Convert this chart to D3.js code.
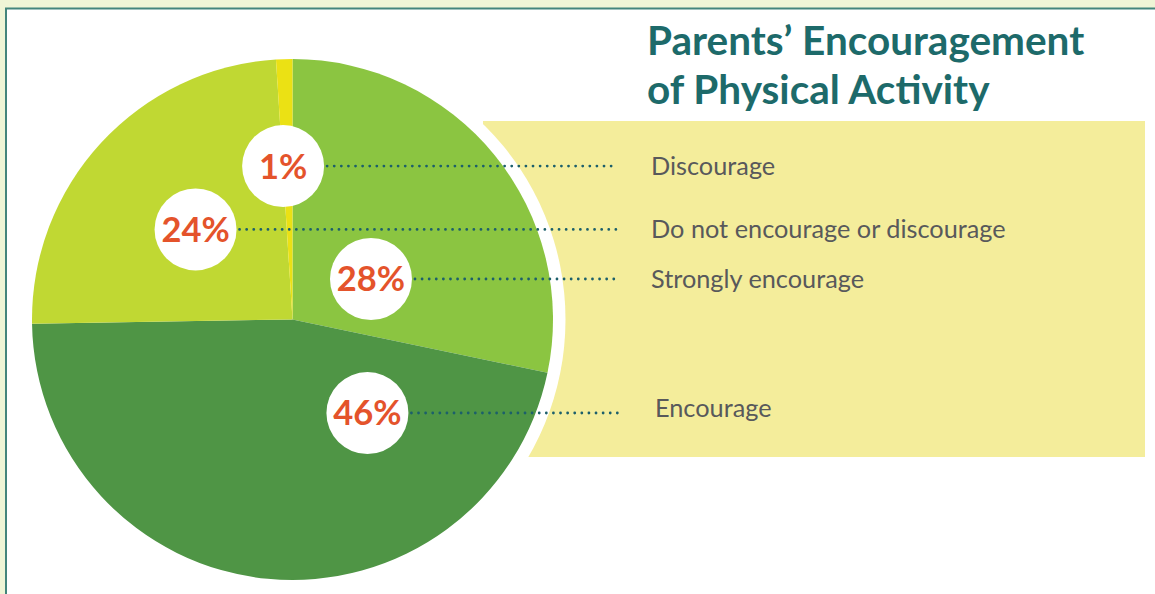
<!DOCTYPE html>
<html>
<head>
<meta charset="utf-8">
<script src="https://cdn.jsdelivr.net/npm/d3@7"></script>
<style>
  html, body { margin: 0; padding: 0; background: #eff5d6; }
  svg { display: block; }
</style>
</head>
<body>
<svg id="chart" width="1155" height="594"></svg>
<script>
// Survey responses, in clockwise order from twelve o'clock
const categories = ["Strongly encourage", "Encourage", "Do not encourage or discourage", "Discourage"];
const values = [28, 46, 24, 1];
const valueLabels = ["28%", "46%", "24%", "1%"];
const sliceColors = ["#8bc541", "#4f9545", "#c0d833", "#ebe114"];

// Where each value bubble sits inside the pie: angle (deg, clockwise from north) and radius as a share of the pie radius
const bubbleAngles = [62.7, 141.3, -47.1, -3.5];
const bubbleRadii = [0.339, 0.46, 0.508, 0.59];

const titleLines = ["Parents\u2019 Encouragement", "of Physical Activity"];

const svg = d3.select("#chart");
const W = 1155, H = 594;

// Panel with teal frame
svg.append("rect")
  .attr("x", 6).attr("y", 8.5)
  .attr("width", W + 10).attr("height", H + 10)
  .attr("fill", "#ffffff")
  .attr("stroke", "#43857c").attr("stroke-width", 2);

// Yellow band behind the category names
svg.append("rect")
  .attr("x", 483).attr("y", 121)
  .attr("width", 662).attr("height", 336)
  .attr("fill", "#f4ed9b");

const cx = 292.5, cy = 319.5, R = 260.5;
const g = svg.append("g").attr("transform", `translate(${cx},${cy})`);

// White halo around the pie
g.append("circle").attr("r", R + 12.5).attr("fill", "#ffffff");

const pie = d3.pie().sort(null).value(d => d)(values);
const arc = d3.arc().innerRadius(0).outerRadius(R);

g.selectAll("path.slice")
  .data(pie)
  .join("path")
  .attr("class", "slice")
  .attr("d", arc)
  .attr("fill", (d, i) => sliceColors[i]);

// Bubble centres in page coordinates
const bubbles = values.map((v, i) => {
  const p = d3.pointRadial(bubbleAngles[i] * Math.PI / 180, bubbleRadii[i] * R);
  return { x: cx + p[0], y: cy + p[1], label: valueLabels[i], name: categories[i], i };
});

const bubbleR = 41;
const lineEnd = 618;
const textX = [651, 655, 651, 651];
const textShift = [0, -5, 0, 0];

// Dotted leader lines from each bubble to its category name
svg.selectAll("line.leader")
  .data(bubbles)
  .join("line")
  .attr("class", "leader")
  .attr("x1", d => d.x + bubbleR + 3)
  .attr("x2", lineEnd)
  .attr("y1", d => d.y).attr("y2", d => d.y)
  .attr("stroke", "#1c5f6b")
  .attr("stroke-width", 2.8)
  .attr("stroke-linecap", "round")
  .attr("stroke-dasharray", "0 7.1");

// Value bubbles
svg.selectAll("circle.bubble")
  .data(bubbles)
  .join("circle")
  .attr("class", "bubble")
  .attr("cx", d => d.x).attr("cy", d => d.y)
  .attr("r", bubbleR)
  .attr("fill", "#ffffff");

svg.selectAll("text.pct")
  .data(bubbles)
  .join("text")
  .attr("class", "pct")
  .attr("x", d => d.x).attr("y", d => d.y)
  .attr("text-anchor", "middle")
  .attr("dy", "0.36em")
  .attr("font-family", "Lato, 'Open Sans', sans-serif")
  .attr("font-weight", 700)
  .attr("font-size", 34.5)
  .attr("fill", "#e4532b")
  .text(d => d.label);

// Category names
svg.selectAll("text.cat")
  .data(bubbles)
  .join("text")
  .attr("class", "cat")
  .attr("x", d => textX[d.i])
  .attr("y", d => d.y + textShift[d.i])
  .attr("dy", "0.35em")
  .attr("font-family", "Lato, 'Open Sans', sans-serif")
  .attr("font-size", 25.3)
  .attr("fill", "#58595b")
  .text(d => d.name);

// Title
svg.append("text")
  .attr("x", 647).attr("y", 55)
  .attr("font-family", "Lato, 'Open Sans', sans-serif")
  .attr("font-weight", 700)
  .attr("font-size", 40.5)
  .attr("fill", "#1d6a6a")
  .selectAll("tspan")
  .data(titleLines)
  .join("tspan")
  .attr("x", 647)
  .attr("dy", (d, i) => i === 0 ? 0 : 49)
  .text(d => d);
</script>
</body>
</html>
